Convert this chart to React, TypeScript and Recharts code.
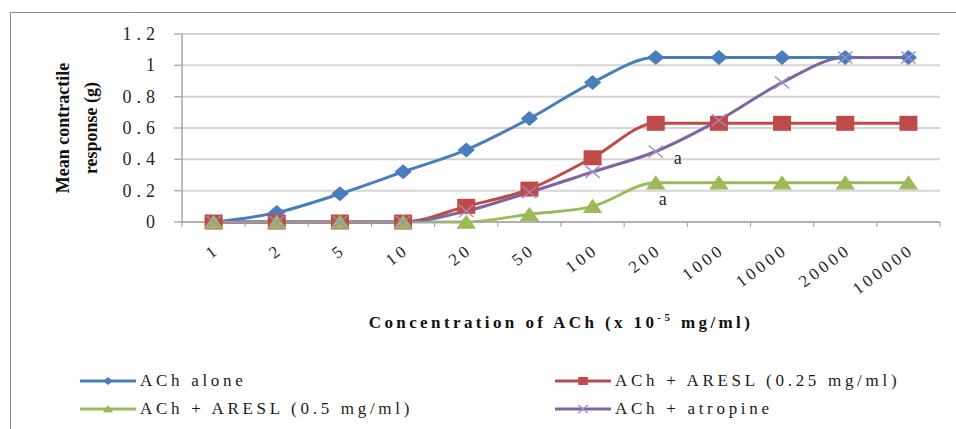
import React from 'react';
import { LineChart, Line, XAxis, YAxis, CartesianGrid, Legend } from 'recharts';

// concentration of ACh (x 10^-5 mg/ml)
const categories = ['1', '2', '5', '10', '20', '50', '100', '200', '1000', '10000', '20000', '100000'];

const achAlone = [0, 0.06, 0.18, 0.32, 0.46, 0.66, 0.89, 1.05, 1.05, 1.05, 1.05, 1.05];
const aresl025 = [0, 0, 0, 0, 0.1, 0.21, 0.41, 0.63, 0.63, 0.63, 0.63, 0.63];
const aresl05 = [0, 0, 0, 0, 0, 0.05, 0.1, 0.25, 0.25, 0.25, 0.25, 0.25];
const atropine = [0, 0, 0, 0, 0.07, 0.19, 0.32, 0.45, 0.65, 0.89, 1.05, 1.05];

const yTicks = [0, 0.2, 0.4, 0.6, 0.8, 1, 1.2];

// "a" marks (significance) next to these points
const noteIndex = 7;
const noteText = 'a';

const series = [
  { key: 'achAlone', name: 'ACh alone', color: '#4a7ebb', shape: 'diamond', values: achAlone },
  { key: 'aresl025', name: 'ACh + ARESL (0.25 mg/ml)', color: '#be4b48', shape: 'square', values: aresl025 },
  { key: 'aresl05', name: 'ACh + ARESL (0.5 mg/ml)', color: '#9bbb59', shape: 'triangle', values: aresl05 },
  { key: 'atropine', name: 'ACh + atropine', color: '#8064a2', shape: 'cross', values: atropine },
];

const data = categories.map((c, i) => {
  const row: any = { conc: c };
  series.forEach(s => { row[s.key] = s.values[i]; });
  return row;
});

const SERIF = "'Liberation Serif', 'DejaVu Serif', 'Times New Roman', Times, serif";
const W = 956;
const H = 429;
const MARGIN = { top: 34, right: 16, left: 100, bottom: 0 };
const Y_W = 82;
const BAND = (W - MARGIN.left - Y_W - MARGIN.right) / categories.length;

const marker = (shape: string, cx: number, cy: number, s: number, color: string) => {
  if (shape === 'diamond') {
    return <polygon points={`${cx},${cy - s} ${cx + s * 1.15},${cy} ${cx},${cy + s} ${cx - s * 1.15},${cy}`} fill={color} />;
  }
  if (shape === 'square') {
    return <rect x={cx - s * 1.2} y={cy - s} width={s * 2.4} height={s * 2} fill={color} />;
  }
  if (shape === 'triangle') {
    return <polygon points={`${cx},${cy - s} ${cx + s * 1.3},${cy + s * 0.9} ${cx - s * 1.3},${cy + s * 0.9}`} fill={color} />;
  }
  return (
    <g stroke="#a08cc4" strokeWidth={1.4}>
      <line x1={cx - s * 1.2} y1={cy - s} x2={cx + s * 1.2} y2={cy + s} />
      <line x1={cx - s * 1.2} y1={cy + s} x2={cx + s * 1.2} y2={cy - s} />
    </g>
  );
};

const YTick = ({ x, y, payload }: any) => (
  <text x={x} y={y} dy={6} textAnchor="end" style={{ fontFamily: SERIF }} fontSize={18} letterSpacing={5} fill="#262626">
    {payload.value}
  </text>
);

const XTick = ({ x, y, payload, index }: any) => (
  <g>
    <line x1={x - BAND / 2} y1={y} x2={x - BAND / 2} y2={y + 5} stroke="#a6a6a6" strokeWidth={1.2} />
    {index === categories.length - 1 && (
      <line x1={x + BAND / 2} y1={y} x2={x + BAND / 2} y2={y + 5} stroke="#a6a6a6" strokeWidth={1.2} />
    )}
    <text
      x={x + 7}
      y={y + 30}
      transform={`rotate(-37, ${x + 7}, ${y + 30})`}
      textAnchor="end"
      style={{ fontFamily: SERIF }}
      fontSize={17}
      letterSpacing={3.5}
      fill="#262626"
    >
      {payload.value}
    </text>
  </g>
);

const YTitle = ({ viewBox }: any) => {
  const cx = viewBox.x - 31;
  const cy = viewBox.y + viewBox.height / 2;
  return (
    <text transform={`rotate(-90, ${cx}, ${cy})`} x={cx} y={cy} textAnchor="middle" style={{ fontFamily: SERIF }} fontWeight="bold" fontSize={18} fill="#111">
      <tspan x={cx} dy={0}>Mean contractile</tspan>
      <tspan x={cx} dy={28}>response (g)</tspan>
    </text>
  );
};

const XTitle = ({ viewBox }: any) => (
  <text x={viewBox.x + viewBox.width / 2} y={viewBox.y + 106} textAnchor="middle" style={{ fontFamily: SERIF }} fontWeight="bold" fontSize={17} letterSpacing={3.4} fill="#111">
    Concentration of ACh (x 10<tspan fontSize={11} dy={-7}>-5</tspan><tspan dy={7}> mg/ml)</tspan>
  </text>
);

const LegendBox = () => (
  <div style={{ position: 'relative', width: W, height: 60, fontFamily: SERIF }}>
    {series.map((s, i) => (
      <div
        key={s.key}
        style={{
          position: 'absolute',
          left: i % 2 === 0 ? 80 : 555,
          top: i < 2 ? 4 : 32,
          height: 22,
          display: 'flex',
          alignItems: 'center',
          whiteSpace: 'nowrap',
        }}
      >
        <svg width={56} height={22}>
          <line x1={0} y1={11} x2={56} y2={11} stroke={s.color} strokeWidth={3} />
          {marker(s.shape, 28, 11, 4, s.color)}
        </svg>
        <span style={{ marginLeft: 4, fontSize: 17, letterSpacing: 3.7, color: '#1a1a1a' }}>{s.name}</span>
      </div>
    ))}
  </div>
);

const noteLabel = (dx: number, dy: number) => (p: any) =>
  p.index === noteIndex ? (
    <text key={`n-${p.index}`} x={p.x + dx} y={p.y + dy} style={{ fontFamily: SERIF }} fontSize={18} fill="#262626">
      {noteText}
    </text>
  ) : (
    <g key={`n-${p.index}`} />
  );

export default function App() {
  return (
    <div style={{ position: 'absolute', left: 0, top: 0, width: W, height: H, overflow: 'hidden', background: '#fff' }}>
      <div style={{ position: 'absolute', left: 10, top: 12, width: 980, height: 460, border: '1.5px solid #8a8a8a' }} />
      <LineChart width={W} height={H} data={data} margin={MARGIN}>
        <CartesianGrid vertical={false} stroke="#d4d4d4" strokeWidth={2} />
        <XAxis
          dataKey="conc"
          height={207}
          padding={{ left: BAND / 2, right: BAND / 2 }}
          axisLine={{ stroke: '#a6a6a6', strokeWidth: 1.5 }}
          tickLine={false}
          tickSize={0}
          tickMargin={0}
          interval={0}
          tick={<XTick />}
          label={{ content: XTitle } as any}
        />
        <YAxis
          width={Y_W}
          domain={[0, 1.2]}
          ticks={yTicks}
          interval={0}
          axisLine={{ stroke: '#a6a6a6', strokeWidth: 1.5 }}
          tickLine={{ stroke: '#b0b0b0', strokeWidth: 1.5 }}
          tickSize={8}
          tickMargin={14}
          tick={<YTick />}
          label={{ content: YTitle } as any}
        />
        <Legend
          layout="vertical"
          align="center"
          verticalAlign="middle"
          wrapperStyle={{ left: 0, top: 366, width: W }}
          content={<LegendBox />}
        />
        {series.map(s => (
          <Line
            key={s.key}
            type="monotone"
            dataKey={s.key}
            name={s.name}
            stroke={s.color}
            strokeWidth={3}
            isAnimationActive={false}
            dot={(p: any) => <g key={`${s.key}-${p.index}`}>{marker(s.shape, p.cx, p.cy, s.shape === 'cross' ? 6 : 7.5, s.color)}</g>}
            activeDot={false}
            label={s.key === 'atropine' ? noteLabel(18, 12) : s.key === 'aresl05' ? noteLabel(3, 22) : undefined}
          />
        ))}
      </LineChart>
    </div>
  );
}
